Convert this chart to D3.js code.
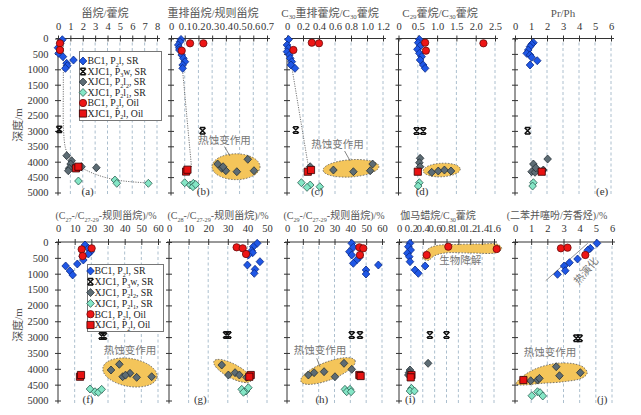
<!DOCTYPE html>
<html><head><meta charset="utf-8">
<script src="https://cdn.jsdelivr.net/npm/d3@7"></script>
<style>body{margin:0;background:#fff}svg{display:block}</style>
</head><body><svg id="chart" width="641" height="415"></svg>
<script>
// ---------------- data ----------------
const panelIds = ["a","b","c","d","e","f","g","h","i","j"];
const panelTitles = [
  [["甾烷/藿烷"]],
  [["重排甾烷/规则甾烷"]],
  [["C"],["30",1],["重排藿烷/C"],["30",1],["藿烷"]],
  [["C"],["29",1],["藿烷/C"],["30",1],["藿烷"]],
  [["Pr/Ph"]],
  [["(C"],["27",1],["-/C"],["27-29",1],["-规则甾烷)/%"]],
  [["(C"],["28",1],["-/C"],["27-29",1],["-规则甾烷)/%"]],
  [["(C"],["29",1],["-/C"],["27-29",1],["-规则甾烷)/%"]],
  [["伽马蜡烷/C"],["30",1],["藿烷"]],
  [["(二苯并噻吩/芳香烃)/%"]]
];
const xTickValues = [
  [0,1,2,3,4,5,6,7,8],
  [0,0.1,0.2,0.3,0.4,0.5,0.6,0.7],
  [0,0.2,0.4,0.6,0.8,1.0,1.2],
  [0,0.5,1.0,1.5,2.0,2.5],
  [0,1,2,3,4,5,6],
  [0,10,20,30,40,50,60],
  [0,10,20,30,40,50],
  [0,10,20,30,40,50,60],
  [0,0.2,0.4,0.6,0.8,1.0,1.2,1.4,1.6],
  [0,1,2,3,4,5,6]
];
const xTickLabels = [
  ["0","1","2","3","4","5","6","7","8"],
  ["0","0.1","0.2","0.3","0.4","0.5","0.6","0.7"],
  ["0","0.2","0.4","0.6","0.8","1.0","1.2"],
  ["0","0.5","1.0","1.5","2.0","2.5"],
  ["0","1","2","3","4","5","6"],
  ["0","10","20","30","40","50","60"],
  ["0","10","20","30","40","50"],
  ["0","10","20","30","40","50","60"],
  ["0","0.2","0.4","0.6","0.8","1.0","1.2","1.4","1.6"],
  ["0","1","2","3","4","5","6"]
];
const depthTicks = [0,500,1000,1500,2000,2500,3000,3500,4000,4500,5000];
const depthTickLabels = ["0","500","1000","1500","2000","2500","3000","3500","4000","4500","5000"];

// series: [panel, value, depth]
const bc1SR = [
  ["a",0.35,40],["a",0.2,150],["a",0.0,300],["a",0.05,480],["a",0.4,590],["a",1.25,700],["a",0.7,806],["a",0.75,883],["a",0.6,968],
  ["b",0.073,30],["b",0.066,105],["b",0.053,210],["b",0.06,300],["b",0.061,373],["b",0.078,536],["b",0.09,643],["b",0.102,753],["b",0.085,860],["b",0.085,968],
  ["c",0.02,30],["c",0.0,211],["c",0.017,319],["c",0.0,428],["c",0.03,536],["c",0.04,643],["c",0.06,753],["c",0.05,860],["c",0.1,968],
  ["d",0.54,30],["d",0.51,136],["d",0.56,244],["d",0.49,351],["d",0.54,481],["d",0.6,590],["d",0.56,698],["d",0.64,860],["d",0.69,968],
  ["e",1.15,136],["e",1.04,189],["e",0.94,265],["e",0.83,373],["e",0.73,481],["e",0.94,536],["e",1.04,611],["e",1.39,721],["e",0.94,860],
  ["f",16.2,95],["f",18.2,199],["f",19.6,306],["f",18.2,379],["f",14.8,464],["f",15.2,568],["f",11.6,694],["f",4.6,757],["f",7.2,915],["f",8.8,1041],
  ["g",45,42],["g",43,148],["g",42.2,274],["g",42.7,337],["g",40.5,410],["g",46.4,621],["g",40,726],["g",43.9,862],["g",43.5,989],
  ["h",40.9,42],["h",41.9,167],["h",39.4,306],["h",40.9,410],["h",45.7,483],["h",44,568],["h",41.9,672],["h",57.7,726],["h",49.9,883],["h",49.9,1010],
  ["i",0.185,42],["i",0.157,148],["i",0.197,252],["i",0.14,356],["i",0.173,464],["i",0.185,621],["i",0.44,757],["i",0.27,883],["i",0.325,988],
  ["j",5.07,42],["j",4.66,199],["j",4.5,260],["j",3.87,536],["j",3.37,652],["j",3.04,757],["j",3.11,905],["j",2.63,1019]
];
const xjc1P3w = [
  ["a",0.1,2950],["b",0.23,2993],["c",0.11,2970],["d",0.47,3003],["d",0.64,3003],["e",0.79,2993],
  ["f",26.2,2966],["f",27.6,2966],["g",29.1,2934],["g",30.3,2934],["h",40.9,2934],["h",46.1,2934],
  ["i",0.52,2934],["i",0.80,2934],["j",3.79,3038],["j",4.0,3038]
];
const xjc1P2l2 = [
  ["a",0.7,3805],["a",1.1,3968],["a",1.02,4075],["a",0.9,4215],["a",0.83,4293],["a",1.9,4163],["a",3.1,4195],
  ["b",0.34,4075],["b",0.37,4215],["b",0.40,4293],["b",0.48,4325],["b",0.56,3922],["b",0.605,4293],["b",0.38,4163],
  ["c",0.29,4163],["c",0.58,4270],["c",0.83,4325],["c",1.04,4293],["c",1.07,4075],
  ["d",0.56,3890],["d",0.54,4033],["d",0.56,4163],["d",0.86,4345],["d",1.03,4302],["d",1.19,4270],["d",1.36,4302],
  ["e",1.15,4075],["e",2.04,3913],["e",1.04,4325],["e",1.25,4345],["e",1.77,4270],["e",1.3,4200],
  ["f",31.8,4038],["f",36.8,3858],["f",38.8,4250],["f",43.2,4142],["f",40.5,4200],["f",47.2,4270],["f",56.2,4250],
  ["g",26.9,3881],["g",30.3,4196],["g",33.7,4122],["g",35.9,4196],["g",39.6,4270],
  ["h",13.5,4196],["h",17.1,4122],["h",23.4,4091],["h",30.3,4250],["h",36,3827],["h",40.9,4017],
  ["i",0.49,3827],["i",0.185,4038],["i",0.17,4120],["i",0.157,4196],
  ["j",2.55,3934],["j",2.75,4218],["j",4.04,4122],["j",0.97,4376],["j",1.39,4354],["j",1.51,4302]
];
const xjc1P2l1 = [
  ["a",1.65,4627],["a",4.6,4595],["a",4.75,4702],["a",7.3,4702],
  ["b",0.10,4682],["b",0.14,4757],["b",0.163,4702],["b",0.16,4812],["b",0.18,4740],
  ["c",0.18,4682],["c",0.29,4757],["c",0.25,4833],["c",0.41,4812],
  ["d",0.54,4682],["d",0.51,4790],
  ["e",1.15,4682],["e",1.1,4790],
  ["f",19.2,4638],["f",22.2,4723],["f",24.2,4742],["f",26.2,4648],
  ["g",37.1,4648],["g",39.3,4701],["g",40.5,4597],["g",38,4740],
  ["h",36.6,4648],["h",39.8,4648],["h",37.7,4723],["h",40.5,4723],
  ["i",0.21,4617],["i",0.185,4701],["i",0.26,4701],
  ["j",1.04,4849],["j",1.39,4723],["j",1.55,4754],["j",1.72,4858]
];
const bc1Oil = [
  ["a",0.16,156],["a",0.16,373],
  ["b",0.139,156],["b",0.236,156],["b",0.078,396],
  ["c",0.31,136],["c",0.40,156],["c",0.08,373],
  ["d",0.69,136],["d",2.2,156],["d",0.71,396],
  ["f",14.2,230],["f",20.2,199],["f",14.8,442],
  ["g",34.5,167],["g",37.6,199],["g",39.3,379],
  ["h",45.7,167],["h",48.2,199],["h",46.1,410],
  ["i",0.83,148],["i",1.645,221],["i",0.466,410],
  ["j",2.84,199],["j",3.25,179],["j",4.35,410]
];
const xjc1Oil = [
  ["a",1.45,4215],["a",1.65,4163],["b",0.11,4320],["b",0.12,4260],["c",0.26,4325],["c",0.30,4270],
  ["d",0.50,4325],["e",1.67,4325],["f",13.2,4250],["f",13.8,4196],["g",41.7,4196],["g",41,4250],
  ["h",45.7,4196],["h",46.5,4228],["i",0.21,4196],["i",0.197,4270],["j",0.52,4354]
];
const seriesNames = [
  [["BC1, P"],["2",1],["l, SR"]],
  [["XJC1, P"],["3",1],["w, SR"]],
  [["XJC1, P"],["2",1],["l"],["2",1],[", SR"]],
  [["XJC1, P"],["2",1],["l"],["1",1],[", SR"]],
  [["BC1, P"],["2",1],["l, Oil"]],
  [["XJC1, P"],["2",1],["l, Oil"]]
];
const seriesData = [bc1SR, xjc1P3w, xjc1P2l2, xjc1P2l1, bc1Oil, xjc1Oil];

// annotation zones: [panel, centerValue, centerDepth, radiusValue, radiusDepth, angle]
const zoneEllipses = [
  ["b",0.474,4163,0.175,420,0],
  ["c",0.80,4215,0.35,280,-4],
  ["d",1.12,4270,0.48,220,-3],
  ["f",43.2,4117,16.5,440,10],
  ["g",32.4,4070,10.7,221,28],
  ["h",25.9,4070,18.3,284,-21]
];
const zoneI = [[0.40,505],[0.49,221],[0.64,110],[0.94,79],[1.36,63],[1.67,79],[1.73,205],[1.65,331],[1.20,347],[0.77,347],[0.59,442],[0.49,584]];
const zoneJ = [[0.06,4480],[0.43,4259],[1.24,4007],[2.48,3833],[3.54,3833],[4.22,3944],[4.47,4133],[4.16,4291],[3.11,4401],[1.55,4464],[0.43,4512]];
const trendA = [[0.45,0],[0.43,1500],[0.45,3000],[0.6,3550],[0.85,3800],[1.4,4060],[2.85,4380],[4.75,4595],[7.3,4690]];
const trendB = [[0.065,100],[0.15,4200]];
const trendC = [[0.01,150],[0.27,4200]];
const trendJ = [[1.9,1220],[4.5,40]];
const notes = [
  ["b","热蚀变作用",0.39,3351,0],["c","热蚀变作用",0.63,3481,0],["f","热蚀变作用",43.2,3470,0],
  ["h","热蚀变作用",20.8,3470,0],["j","热蚀变作用",2.17,3534,0],["i","生物降解",1.03,631,0],["j","热演化",4.45,937,-50]
];
const leaders = [["b",0.39,3510,0.43,3815],["c",0.72,3653,0.79,3977],["h",18.8,3669,20.8,3934]];
const panelLetterPos = [2.4,0.235,0.375,0.61,5.45,18,16,22,0.19,5.4];

// ---------------- layout / style ----------------
const FONT = "'Liberation Serif','Times New Roman','Noto Sans CJK SC',serif";
const panelXRange = [[58,157],[171,267],[287,383],[398.5,495],[515,611],[58,158],[169,267],[287,382],[399,494],[515,612]];
const rowYRange = [[38.5,192.5],[242,400.5]];
const tickPad = [5.5,7.5];
const titleY = [16.5,219];
const titleSize = [11,10];
const titleX = [105,213,330,440,563,106,218,334,438,557];
const styles = [
  {shape:"diamond",fill:"#1f57e6",stroke:"#0a2a86"},
  {shape:"x",fill:"none",stroke:"#111"},
  {shape:"diamond",fill:"#5d6c74",stroke:"#263036"},
  {shape:"diamond",fill:"#84e6c6",stroke:"#2c5f52"},
  {shape:"circle",fill:"#ee1515",stroke:"#6a0a0a"},
  {shape:"square",fill:"#e81212",stroke:"#300"}
];
const shapes = {
  diamond:"M0,-4L3.8,0L0,4L-3.8,0Z",
  square:"M-3.6,-3.6H3.6V3.6H-3.6Z",
  circle:d3.symbol(d3.symbolCircle,42)(),
  x:"M-3,-3L3,3M3,-3L-3,3M-2.6,-3.2H2.6M-2.6,3.2H2.6"
};

const svg = d3.select("#chart");
svg.append("rect").attr("width",641).attr("height",415).attr("fill","#fff");

function rich(textSel, segs, fs){
  let prevSub = false;
  segs.forEach(s=>{
    const t = textSel.append("tspan").text(s[0]);
    if(s[1]){ t.attr("font-size",fs*0.62).attr("dy",prevSub?0:fs*0.25); prevSub=true; }
    else { if(prevSub) t.attr("dy",-fs*0.25); prevSub=false; }
  });
}
function drawMarker(g, st, x, y){
  const p = g.append("path").attr("d",shapes[st.shape]).attr("transform",`translate(${x},${y})`);
  if(st.shape==="x") p.attr("fill","none").attr("stroke",st.stroke).attr("stroke-width",1.5);
  else p.attr("fill",st.fill).attr("stroke",st.stroke).attr("stroke-width",0.8);
}

panelIds.forEach((id,i)=>{
  const row = i<5?0:1;
  const tv = xTickValues[i];
  const x = d3.scaleLinear().domain([tv[0],tv[tv.length-1]]).range(panelXRange[i]);
  const y = d3.scaleLinear().domain([0,5000]).range(rowYRange[row]);
  const g = svg.append("g");

  // grid
  g.selectAll("line.grid").data(tv.slice(1)).join("line").attr("class","grid")
    .attr("x1",d=>x(d)).attr("x2",d=>x(d)).attr("y1",y(0)+4).attr("y2",y(5000)+3)
    .attr("stroke","#a3b8c8").attr("stroke-width",0.9).attr("stroke-dasharray","3,2.5");

  // zones
  zoneEllipses.filter(e=>e[0]===id).forEach(e=>{
    const cx=x(e[1]), cy=y(e[2]);
    g.append("ellipse").attr("cx",cx).attr("cy",cy)
      .attr("rx",x(e[1]+e[3])-cx).attr("ry",y(e[2]+e[4])-cy)
      .attr("transform",`rotate(${e[5]},${cx},${cy})`)
      .attr("fill","#f4c55a").attr("stroke","#555").attr("stroke-width",0.8).attr("stroke-dasharray","1.5,1.5");
  });
  const zoneLine = d3.line().x(d=>x(d[0])).y(d=>y(d[1])).curve(d3.curveCatmullRomClosed.alpha(0.5));
  if(id==="i") g.append("path").attr("d",zoneLine(zoneI)).attr("fill","#f4c55a").attr("stroke","#555").attr("stroke-width",0.8).attr("stroke-dasharray","1.5,1.5");
  if(id==="j") g.append("path").attr("d",zoneLine(zoneJ)).attr("fill","#f4c55a").attr("stroke","#555").attr("stroke-width",0.8).attr("stroke-dasharray","1.5,1.5");

  // trend lines
  const tl = d3.line().x(d=>x(d[0])).y(d=>y(d[1])).curve(d3.curveCatmullRom);
  const trendMap = {a:trendA,b:trendB,c:trendC};
  if(trendMap[id]) g.append("path").attr("d",tl(trendMap[id])).attr("fill","none").attr("stroke","#666").attr("stroke-width",0.9).attr("stroke-dasharray","1.2,1.2");
  if(id==="j") g.append("path").attr("d",tl(trendJ)).attr("fill","none").attr("stroke","#777").attr("stroke-width",0.8);

  // axes
  g.append("line").attr("x1",x.range()[0]-2).attr("x2",x.range()[1]+3).attr("y1",y(0)).attr("y2",y(0)).attr("stroke","#333").attr("stroke-width",1);
  g.append("line").attr("x1",x(tv[0])).attr("x2",x(tv[0])).attr("y1",y(0)).attr("y2",y(5000)+3).attr("stroke","#333").attr("stroke-width",1);
  const axT = g.append("g").attr("transform",`translate(0,${y(0)})`)
    .call(d3.axisTop(x).tickValues(tv).tickFormat((d,k)=>xTickLabels[i][k]).tickSize(3).tickPadding(tickPad[row]));
  axT.select(".domain").remove();
  axT.selectAll(".tick line").attr("y1",3).attr("stroke","#333");
  axT.selectAll("text").attr("font-family",FONT).attr("font-size",10.5).attr("fill","#333");
  const showY = (id==="a"||id==="f");
  const axL = g.append("g").attr("transform",`translate(${x(tv[0])},0)`)
    .call(d3.axisLeft(y).tickValues(depthTicks).tickFormat((d,k)=>showY?depthTickLabels[k]:"").tickSize(3).tickPadding(6.5));
  axL.select(".domain").remove();
  axL.selectAll(".tick line").attr("x1",3).attr("stroke","#333");
  axL.selectAll("text").attr("font-family",FONT).attr("font-size",10.5).attr("fill","#333");

  // title
  const tt = g.append("text").attr("x",titleX[i]).attr("y",titleY[row]).attr("text-anchor","middle")
    .attr("font-family",FONT).attr("font-size",titleSize[row]).attr("fill","#555");
  rich(tt, panelTitles[i], titleSize[row]);

  // leaders & notes
  leaders.filter(l=>l[0]===id).forEach(l=>{
    g.append("line").attr("x1",x(l[1])).attr("y1",y(l[2])).attr("x2",x(l[3])).attr("y2",y(l[4])).attr("stroke","#666").attr("stroke-width",0.8);
  });
  notes.filter(n=>n[0]===id).forEach(n=>{
    g.append("text").attr("x",x(n[2])).attr("y",y(n[3])).attr("text-anchor","middle").attr("dominant-baseline","middle")
      .attr("transform",`rotate(${n[4]},${x(n[2])},${y(n[3])})`)
      .attr("font-family",FONT).attr("font-size",10.5).attr("fill","#777").text(n[1]);
  });

  // points
  seriesData.forEach((arr,s)=>{
    arr.filter(p=>p[0]===id).forEach(p=> drawMarker(g, styles[s], x(p[1]), y(p[2])));
  });

  // panel letter
  g.append("text").attr("x",x(panelLetterPos[i])).attr("y",y(5000)).attr("dominant-baseline","middle")
    .attr("text-anchor","middle").attr("font-family",FONT).attr("font-size",11).attr("fill","#333").text(`(${id})`);
});

// y-axis labels
[[19,125],[19,325]].forEach(p=>{
  svg.append("text").attr("transform",`translate(${p[0]},${p[1]}) rotate(-90)`).attr("text-anchor","middle")
    .attr("dominant-baseline","middle").attr("font-family",FONT).attr("font-size",11).attr("fill","#555").text("深度/m");
});

// legends
const legendBoxes = [{x:79.5,y:51.5,w:82,h:69,tx:87.5,mx:83,y0:61,dy:10.5},{x:87.5,y:264.5,w:76,h:67,tx:94.5,mx:90.5,y0:271,dy:10.8}];
legendBoxes.forEach(b=>{
  const lg = svg.append("g");
  lg.append("rect").attr("x",b.x).attr("y",b.y).attr("width",b.w).attr("height",b.h).attr("fill","#fff").attr("stroke","#777").attr("stroke-width",1);
  seriesNames.forEach((nm,k)=>{
    const yy = b.y0 + k*b.dy;
    drawMarker(lg, styles[k], b.mx, yy);
    const t = lg.append("text").attr("x",b.tx).attr("y",yy+3.3).attr("font-family",FONT).attr("font-size",9.8).attr("fill","#222");
    rich(t, nm, 9.8);
  });
});
</script></body></html>
